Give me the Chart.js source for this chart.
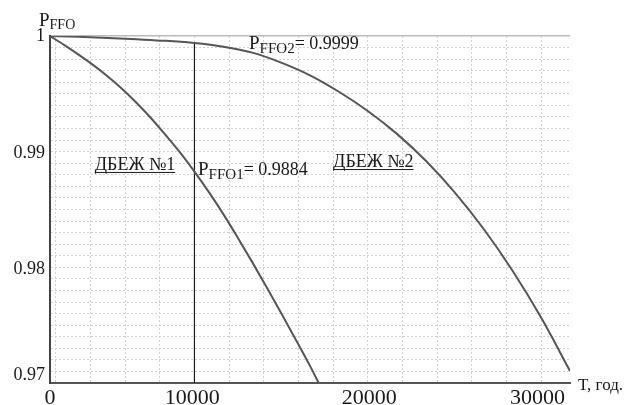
<!DOCTYPE html>
<html>
<head>
<meta charset="utf-8">
<script src="https://cdn.jsdelivr.net/npm/chart.js@4"></script>
<style>
  html, body { margin: 0; padding: 0; background: #fff; }
</style>
</head>
<body>
<canvas id="myChart" width="627" height="405"></canvas>
<script>
// ДБЕЖ №1
const tHours1 = [0, 1000, 2000, 3000, 4000, 5000, 6000, 7000, 8000, 9000, 10000,
                 11000, 12000, 13000, 14000, 15000, 16000, 17000, 18000, 18600];
const pFfo1 = [1.00000, 0.99921, 0.99837, 0.99748, 0.99650, 0.99542, 0.99421, 0.99289, 0.99144, 0.98993, 0.98827,
               0.98650, 0.98460, 0.98256, 0.98045, 0.97828, 0.97606, 0.97379, 0.97148, 0.97000];

// ДБЕЖ №2
const tHours2 = [0, 2000, 4000, 6000, 8000, 10000, 12000, 14000, 16000, 18000,
                 20000, 22000, 24000, 26000, 28000, 30000, 32000, 34000, 36000];
const pFfo2 = [1.00000, 0.99993, 0.99983, 0.99971, 0.99958, 0.99940, 0.99908, 0.99856, 0.99770, 0.99660,
               0.99518, 0.99352, 0.99156, 0.98923, 0.98651, 0.98336, 0.97975, 0.97566, 0.97104];

// отметка T = 10000
const tMark = 10000;
const pMarkTop = 0.99940;

// подписи осей (как стоят на рисунке)
const xTickLabels = ['0', '10000', '20000', '30000'];
const xTickAt = [0, 9850, 22100, 33750];
const yTickLabels = ['0.97', '0.98', '0.99', '1'];
const yTickAt = [0.9707, 0.9798, 0.9899, 1];

// надписи на поле графика
const notes = [
  { parts: [['ДБЕЖ №1', 18, 0]], t: 3100, p: 0.98842, underline: true },
  { parts: [['ДБЕЖ №2', 18, 0]], t: 19600, p: 0.98867, underline: true },
  { parts: [['P', 19, 0], ['FFO1', 15, 4], ['= 0.9884', 18, 0]], t: 10250, p: 0.98798 },
  { parts: [['P', 19, 0], ['FFO2', 15, 4], ['= 0.9999', 18, 0]], t: 13780, p: 0.99888 }
];

const FONT = '"Liberation Serif", "Times New Roman", serif';
const TEXT = '#1a1a1a';

// сетка
const gridT = [];
for (let v = 400; v <= 34000; v += 2400) gridT.push(v);
const gridP = [];
for (let i = 0; i <= 30; i++) gridP.push(+(0.97 + i * 0.001).toFixed(3));

function drawRich(ctx, parts, x, y) {
  parts.forEach(([text, size, dy]) => {
    ctx.font = size + 'px ' + FONT;
    ctx.fillText(text, x, y + dy);
    x += ctx.measureText(text).width;
  });
  return x;
}

const notesPlugin = {
  id: 'notes',
  afterDatasetsDraw(chart) {
    const { ctx, chartArea, scales: { x, y } } = chart;
    ctx.save();
    ctx.fillStyle = TEXT;
    ctx.strokeStyle = TEXT;
    ctx.textBaseline = 'alphabetic';
    ctx.textAlign = 'left';
    notes.forEach(n => {
      const px = x.getPixelForValue(n.t);
      const py = y.getPixelForValue(n.p);
      const end = drawRich(ctx, n.parts, px, py);
      if (n.underline) {
        ctx.lineWidth = 1;
        ctx.beginPath();
        ctx.moveTo(px, py + 2.5);
        ctx.lineTo(end, py + 2.5);
        ctx.stroke();
      }
    });
    // заголовки осей
    drawRich(ctx, [['P', 19, 0], ['FFO', 14, 3]], chartArea.left - 11, chartArea.top - 10);
    drawRich(ctx, [['T, год.', 17, 0]], chartArea.right + 8, chartArea.bottom + 7);
    ctx.restore();
  }
};

const ctx = document.getElementById('myChart').getContext('2d');
const chart = new Chart(ctx, {
  type: 'line',
  data: {
    datasets: [
      {
        label: 'ДБЕЖ №1',
        data: tHours1.map((t, i) => ({ x: t, y: pFfo1[i] })),
        borderColor: '#565656',
        borderWidth: 2,
        pointRadius: 0,
        cubicInterpolationMode: 'monotone'
      },
      {
        label: 'ДБЕЖ №2',
        data: tHours2.map((t, i) => ({ x: t, y: pFfo2[i] })),
        borderColor: '#565656',
        borderWidth: 2,
        pointRadius: 0,
        cubicInterpolationMode: 'monotone'
      },
      {
        label: 'T = 10000',
        data: [{ x: tMark, y: 0.97 }, { x: tMark, y: pMarkTop }],
        borderColor: '#1a1a1a',
        borderWidth: 1.2,
        pointRadius: 0
      }
    ]
  },
  options: {
    responsive: false,
    devicePixelRatio: 1,
    animation: false,
    layout: { padding: { left: 0, right: 57, top: 36, bottom: 0 } },
    plugins: {
      legend: { display: false },
      tooltip: { enabled: false }
    },
    scales: {
      x: {
        type: 'linear', position: 'bottom', min: 0, max: 36000, weight: 0,
        afterBuildTicks: s => { s.ticks = gridT.map(v => ({ value: v })); },
        afterFit: s => { s.height = 0; },
        ticks: { display: false },
        grid: { color: '#d2d2d2', lineWidth: 1, drawTicks: false },
        border: { display: true, color: '#555', width: 2, dash: c => c.type === 'tick' ? [2, 2] : [] }
      },
      xLab: {
        type: 'linear', position: 'bottom', min: 0, max: 36000, weight: 1,
        afterBuildTicks: s => { s.ticks = xTickAt.map(v => ({ value: v })); },
        afterFit: s => { s.height = 22; },
        grid: { display: false, drawTicks: false },
        border: { display: false },
        ticks: {
          autoSkip: false, maxRotation: 0, padding: 2, color: TEXT,
          font: { family: FONT, size: 22 },
          callback: (v, i) => xTickLabels[i]
        }
      },
      y: {
        type: 'linear', position: 'left', min: 0.97, max: 1, weight: 0,
        afterBuildTicks: s => { s.ticks = gridP.map(v => ({ value: v })); },
        afterFit: s => { s.width = 0; },
        ticks: { display: false },
        grid: {
          color: c => (c.tick && c.tick.value > 0.9995) ? '#bbbbbb' : '#d2d2d2',
          lineWidth: c => (c.tick && c.tick.value > 0.9995) ? 1.5 : 1,
          drawTicks: false
        },
        border: {
          display: true, color: '#444', width: 2,
          dash: c => (c.type === 'tick' && c.tick.value < 0.9995) ? [2, 2] : []
        }
      },
      yLab: {
        type: 'linear', position: 'left', min: 0.97, max: 1, weight: 1,
        afterBuildTicks: s => { s.ticks = yTickAt.map(v => ({ value: v })); },
        afterFit: s => { s.width = 50; },
        grid: { display: false, drawTicks: false },
        border: { display: false },
        ticks: {
          autoSkip: false, padding: 5, color: TEXT,
          font: { family: FONT, size: 18 },
          callback: (v, i) => yTickLabels[i]
        }
      }
    }
  },
  plugins: [notesPlugin]
});
</script>
</body>
</html>
